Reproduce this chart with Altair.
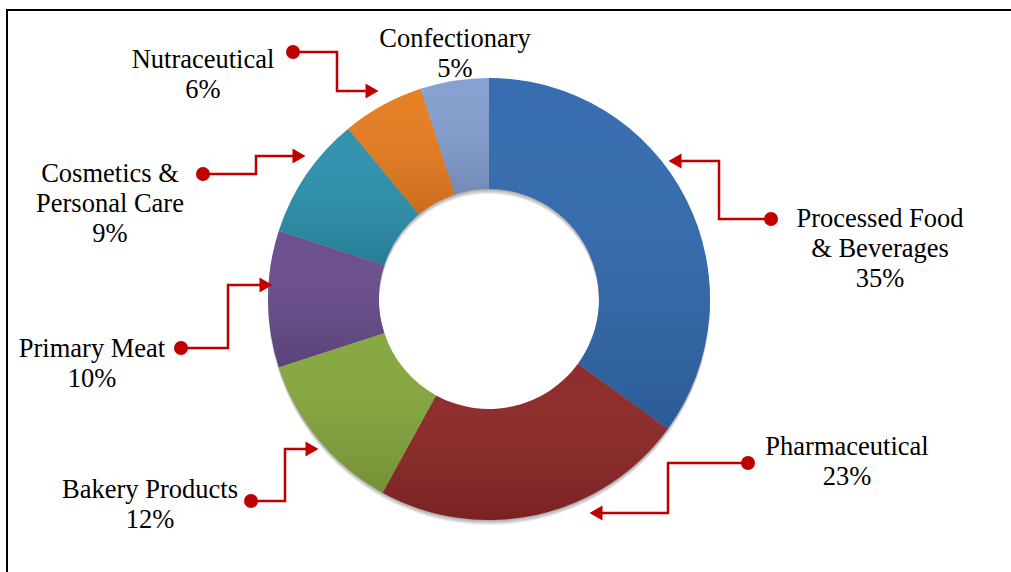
import altair as alt
import pandas as pd

# ---------------- data ----------------
categories = ["Processed Food & Beverages", "Pharmaceutical", "Bakery Products",
              "Primary Meat", "Cosmetics & Personal Care", "Nutraceutical", "Confectionary"]
shares = [35, 23, 12, 10, 9, 6, 5]
label_names = ["Processed Food\n& Beverages", "Pharmaceutical", "Bakery Products",
               "Primary Meat", "Cosmetics &\nPersonal Care", "Nutraceutical", "Confectionary"]
colors = ["#3169ae", "#8c2626", "#84a63c", "#684b8b", "#2b90ad", "#e67c1f", "#839ecf"]

# ---------------- layout (pixels) ----------------
W, H = 1011, 572
CX, CY = 489, 299
R_OUT, R_IN = 221, 110
label_x = [880, 847, 150, 92, 110, 203, 455]
label_y = [227, 455, 498, 357, 182, 68, 47]
# connector polylines: first point is the dot, last point is arrow base
connectors = [
    [(771, 219), (719, 219), (719, 161), (675, 161)],
    [(748, 463), (668, 463), (668, 513), (596, 513)],
    [(251, 501), (285, 501), (285, 449), (312, 449)],
    [(181, 348), (228, 348), (228, 285), (266, 285)],
    [(203, 174), (256, 174), (256, 156), (299, 156)],
    [(293, 52), (337, 52), (337, 91), (372, 91)],
]
arrow_dir = ["left", "left", "right", "right", "right", "right"]

slices = pd.DataFrame({"cat": categories, "share": shares, "idx": list(range(len(categories)))})

line_rows, dot_rows, arrow_rows = [], [], []
for ci, pts in enumerate(connectors):
    for pi, (px, py) in enumerate(pts):
        line_rows.append({"cid": ci, "o": pi, "x": px, "y": py})
    dot_rows.append({"x": pts[0][0], "y": pts[0][1]})
    ax, ay = pts[-1]
    arrow_rows.append({"x": ax, "y": ay, "shape": "triangle-" + arrow_dir[ci]})
lines_df = pd.DataFrame(line_rows)
dots_df = pd.DataFrame(dot_rows)
arrows_df = pd.DataFrame(arrow_rows)

labels_df = pd.DataFrame({
    "text": [f"{n}\n{s}%" for n, s in zip(label_names, shares)],
    "x": label_x, "y": label_y,
})

xs = alt.Scale(domain=[0, W], range=[0, W])
ys = alt.Scale(domain=[0, H], range=[0, H])

RED = "#c00000"


def arc(dy=0, **kw):
    return alt.Chart(slices).mark_arc(radius=R_OUT, radius2=R_IN, **kw).encode(
        theta=alt.Theta("share:Q", stack=True),
        order=alt.Order("idx:Q"),
        x=alt.value(CX), y=alt.value(CY + dy),
    )


shadows = [arc(dy=d, color="#000000", opacity=0.07) for d in (1, 2, 3, 4, 5)]

base = alt.Chart(slices).mark_arc(radius=R_OUT, radius2=R_IN).encode(
    theta=alt.Theta("share:Q", stack=True),
    order=alt.Order("idx:Q"),
    x=alt.value(CX), y=alt.value(CY),
    color=alt.Color("cat:N", scale=alt.Scale(domain=categories, range=colors), legend=None),
)

grad = arc(color=alt.LinearGradient(
    gradient="linear", x1=0, y1=0, x2=0, y2=1,
    stops=[alt.GradientStop(offset=0, color="rgba(255,255,255,0.03)"),
           alt.GradientStop(offset=1, color="rgba(0,0,0,0.13)")]))

one = pd.DataFrame({"a": [0]})
frame_top = alt.Chart(one).mark_rule(color="black", strokeWidth=2).encode(
    x=alt.value(6), x2=alt.value(W), y=alt.value(10))
frame_left = alt.Chart(one).mark_rule(color="black", strokeWidth=2).encode(
    x=alt.value(7), y=alt.value(10), y2=alt.value(H))

conn = alt.Chart(lines_df).mark_line(color=RED, strokeWidth=2.5, strokeJoin="miter").encode(
    x=alt.X("x:Q", scale=xs, axis=None),
    y=alt.Y("y:Q", scale=ys, axis=None),
    detail="cid:N", order="o:Q",
)
dots = alt.Chart(dots_df).mark_point(filled=True, shape="circle", size=196, color=RED, opacity=1).encode(
    x=alt.X("x:Q", scale=xs, axis=None),
    y=alt.Y("y:Q", scale=ys, axis=None),
)
arrows = alt.Chart(arrows_df).mark_point(filled=True, size=225, color=RED, opacity=1).encode(
    x=alt.X("x:Q", scale=xs, axis=None),
    y=alt.Y("y:Q", scale=ys, axis=None),
    shape=alt.Shape("shape:N", scale=None),
)
labels = alt.Chart(labels_df).mark_text(
    font="Liberation Serif", fontSize=26.5, lineHeight=30, align="center",
    baseline="alphabetic", color="black", lineBreak="\n",
).encode(
    x=alt.X("x:Q", scale=xs, axis=None),
    y=alt.Y("y:Q", scale=ys, axis=None),
    text="text:N",
)

chart = alt.layer(
    frame_top, frame_left, *shadows, base, grad, conn, dots, arrows, labels
).properties(
    width=W, height=H, padding=0, autosize=alt.AutoSizeParams(type="none"),
    background="white",
).configure_view(stroke=None)

chart.save("out.html", embed_options={"renderer": "svg", "actions": False})
